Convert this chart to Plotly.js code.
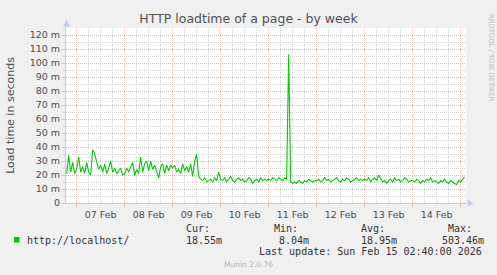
<!DOCTYPE html>
<html><head><meta charset="utf-8">
<script src="https://cdn.plot.ly/plotly-3.0.1.min.js"></script>
<style>html,body{margin:0;padding:0;background:#f0f0f0}#chart{width:497px;height:275px}</style>
</head><body><div id="chart"></div>
<script>
// ---- data (hourly samples, milliseconds) ----
const seriesName = 'http://localhost/';
const firstSample = '2026-02-06T19:00:00Z';
const feb06 = [21, 34, 22, 29, 21];
const feb07 = [24, 33, 22, 26, 21, 29, 22, 20, 38, 35, 30, 24, 27, 22, 28, 21, 25, 30, 22, 25, 21, 23, 25, 20];
const feb08 = [21, 25, 22, 26, 29, 20, 24, 21, 33, 22, 28, 30, 23, 30, 24, 27, 22, 18, 26, 28, 21, 27, 23, 27];
const feb09 = [25, 27, 22, 24, 21, 28, 23, 26, 22, 28, 19, 30, 35, 19, 17, 16, 18, 15, 16, 17, 15, 18, 16, 22];
const feb10 = [17, 16, 18, 15, 17, 19, 16, 15, 17, 18, 16, 17, 15, 16, 18, 17, 14, 16, 17, 15, 18, 16, 17, 16];
const feb11 = [17, 16, 18, 17, 16, 18, 17, 16, 18, 17, 106, 15, 14, 15, 14, 16, 15, 14, 16, 15, 17, 16, 15, 16];
const feb12 = [16, 17, 15, 16, 18, 16, 17, 15, 16, 17, 18, 16, 15, 17, 16, 18, 17, 15, 16, 17, 18, 16, 17, 16];
const feb13 = [17, 16, 18, 15, 17, 18, 16, 20, 17, 15, 16, 14, 16, 17, 15, 18, 16, 17, 15, 16, 18, 17, 15, 16];
const feb14 = [16, 15, 17, 16, 14, 16, 15, 17, 16, 18, 15, 16, 15, 14, 16, 15, 17, 15, 14, 16, 15, 14, 13, 16];
const feb15 = [15, 17, 18.55];
const xRange = ['2026-02-06 18:40', '2026-02-15 02:40'];
const yTickVals = [0, 10, 20, 30, 40, 50, 60, 70, 80, 90, 100, 110, 120];
const yTickText = ['0', '10 m', '20 m', '30 m', '40 m', '50 m', '60 m', '70 m', '80 m', '90 m', '100 m', '110 m', '120 m'];
const statLabels = ['Cur:', 'Min:', 'Avg:', 'Max:'];
const statValues = ['18.55m', '8.04m', '18.95m', '503.46m'];
const lastUpdate = 'Last update: Sun Feb 15 02:40:00 2026';
const titleText = 'HTTP loadtime of a page - by week';
const yTitle = 'Load time in seconds';
const sideText = 'RRDTOOL / TOBI OETIKER';
const footText = 'Munin 2.0.76';

const values = [].concat(feb06, feb07, feb08, feb09, feb10, feb11, feb12, feb13, feb14, feb15);
const t0 = Date.parse(firstSample);
function fmt(ms){const d=new Date(ms);const p=n=>String(n).padStart(2,'0');
  return d.getUTCFullYear()+'-'+p(d.getUTCMonth()+1)+'-'+p(d.getUTCDate())+' '+p(d.getUTCHours())+':'+p(d.getUTCMinutes());}
const times = values.map((v,i)=>fmt(t0 + i*3600000));

// pixel -> paper helpers (plot area 66..466 x 28..203)
const L=66, R=466, T=28, B=203;
const px = x => (x-L)/(R-L);
const py = y => (B-y)/(B-T);

const FONT='DejaVu Sans', MONO='DejaVu Sans Mono';
const major='#efb4b4', minor='#d4d4d4', axisC='#c8c8f4';

const ann = [];
function txt(text,x,y,anchor,opts){ann.push(Object.assign({text:text,xref:'paper',yref:'paper',x:px(x),y:py(y),xanchor:anchor,yanchor:'middle',showarrow:false,borderpad:0,
  font:{family:MONO,size:10,color:'#333'}},opts||{}));}
txt(seriesName,26,240,'left');
const labX=[185.3,272.7,360,446.7];
const valX=[185.3,278.3,360,440.7];
statLabels.forEach((s,i)=>txt(s,labX[i],228.5,'left'));
statValues.forEach((s,i)=>txt(s,valX[i],240,'left'));
txt(lastUpdate,483,251,'right');
txt(footText,248.5,264.5,'center',{font:{family:FONT,size:7.5,color:'#b4b4b4'}});
txt(sideText,491,58,'center',{textangle:90,font:{family:FONT,size:6.8,color:'#bdbdbd'}});

const shapes=[
 {type:'rect',xref:'paper',yref:'paper',x0:px(14),x1:px(19.5),y0:py(242.5),y1:py(237),fillcolor:'#00cc00',line:{width:0}},
 {type:'line',xref:'paper',yref:'paper',x0:px(466),x1:px(469),y0:0,y1:0,line:{color:axisC,width:1}},
 {type:'line',xref:'paper',yref:'paper',x0:0,x1:0,y0:1,y1:py(26),line:{color:axisC,width:1}},
 {type:'path',xref:'paper',yref:'paper',path:`M ${px(66.5)} ${py(19.5)} L ${px(63)} ${py(26.5)} L ${px(70)} ${py(26.5)} Z`,fillcolor:axisC,line:{width:0}},
 {type:'path',xref:'paper',yref:'paper',path:`M ${px(473.5)} ${py(203.3)} L ${px(468)} ${py(200)} L ${px(468)} ${py(206.6)} Z`,fillcolor:axisC,line:{width:0}}
];

const trace={x:times,y:values,type:'scatter',mode:'lines',name:seriesName,line:{color:'#00cc00',width:1.1},hoverinfo:'skip'};

const layout={
 width:497,height:275,margin:{l:L,r:497-R,t:T,b:275-B,pad:0},
 paper_bgcolor:'#f0f0f0',plot_bgcolor:'#ffffff',showlegend:false,
 font:{family:FONT,size:9.5,color:'#4d4d4d'},
 title:{text:titleText,xref:'container',yref:'container',x:0.5,y:1-19/275,xanchor:'center',yanchor:'middle',font:{family:FONT,size:12.5,color:'#505050'}},
 xaxis:{type:'date',range:xRange,tick0:'2026-02-07',dtick:86400000,ticklabelmode:'period',tickformat:'%d %b',
   showgrid:true,gridcolor:major,griddash:'1px,1px',gridwidth:1,ticks:'outside',ticklen:3,tickcolor:major,
   showline:true,linecolor:axisC,linewidth:1,zeroline:false,tickfont:{family:FONT,size:9.5,color:'#4d4d4d'},
   minor:{dtick:21600000,showgrid:true,gridcolor:minor,griddash:'1px,1px',ticks:'',ticklen:2},fixedrange:true},
 yaxis:{range:[0,125],tickvals:yTickVals,ticktext:yTickText,showgrid:true,gridcolor:major,griddash:'1px,1px',
   ticks:'outside',ticklen:3,tickcolor:major,showline:true,linecolor:axisC,linewidth:1,zeroline:false,
   tickfont:{family:FONT,size:9.5,color:'#4d4d4d'},
   minor:{dtick:5,tick0:0,showgrid:true,gridcolor:minor,griddash:'1px,1px',ticks:'outside',ticklen:2,tickcolor:minor},
   title:{text:yTitle,standoff:12,font:{family:FONT,size:11,color:'#4d4d4d'}},fixedrange:true},
 annotations:ann,shapes:shapes
};
Plotly.newPlot('chart',[trace],layout,{staticPlot:true,displayModeBar:false});
</script></body></html>
